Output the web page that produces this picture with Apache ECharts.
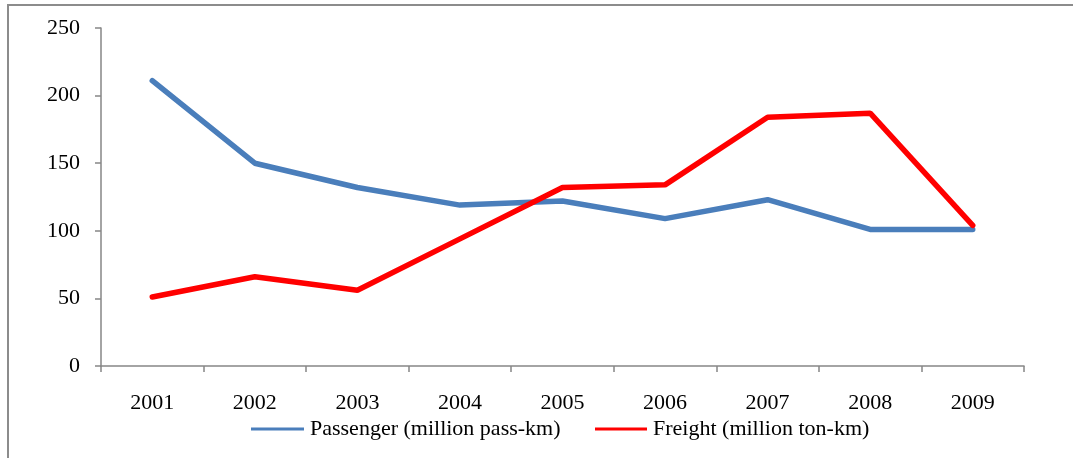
<!DOCTYPE html>
<html>
<head>
<meta charset="utf-8">
<script src="https://cdn.jsdelivr.net/npm/echarts@6/dist/echarts.min.js"></script>
<style>
html,body{margin:0;padding:0;background:#fff;}
#chart{width:1073px;height:458px;}
</style>
</head>
<body>
<div id="chart"></div>
<script>
const years = ['2001','2002','2003','2004','2005','2006','2007','2008','2009'];
const passenger = [211, 150, 132, 119, 122, 109, 123, 101, 101];
const freight = [51, 66, 56, 94, 132, 134, 184, 187, 104];
const yTicks = [0, 50, 100, 150, 200, 250];
const seriesNames = ['Passenger (million pass-km)', 'Freight (million ton-km)'];

const font = '"Liberation Serif", "Times New Roman", serif';
const axisColor = '#868686';
const chart = echarts.init(document.getElementById('chart'), null, {renderer: 'canvas'});
chart.setOption({
  animation: false,
  backgroundColor: '#fff',
  graphic: [{
    type: 'rect',
    shape: {x: 8, y: 5, width: 1200, height: 600},
    style: {fill: 'none', stroke: '#8c8c8c', lineWidth: 2},
    silent: true
  }],
  grid: {left: 101, top: 28, right: 49, bottom: 92, containLabel: false},
  legend: [
    {
      data: [seriesNames[0]], left: 251, top: 418, icon: 'rect', padding: 0,
      itemWidth: 53, itemHeight: 3, itemGap: 0,
      textStyle: {fontFamily: font, fontSize: 22, color: '#000', padding: [3, 0, 0, 1]}
    },
    {
      data: [seriesNames[1]], left: 595, top: 418, icon: 'rect', padding: 0,
      itemWidth: 52, itemHeight: 3, itemGap: 0,
      textStyle: {fontFamily: font, fontSize: 22, color: '#000', padding: [3, 0, 0, 1]}
    }
  ],
  xAxis: {
    type: 'category',
    data: years,
    boundaryGap: true,
    axisLine: {lineStyle: {color: axisColor, width: 1.5}},
    axisTick: {show: true, length: 6, lineStyle: {color: axisColor, width: 1.5}, alignWithLabel: false},
    axisLabel: {fontFamily: font, fontSize: 22, color: '#000', margin: 26},
    splitLine: {show: false}
  },
  yAxis: {
    type: 'value',
    min: yTicks[0], max: yTicks[yTicks.length - 1], interval: 50,
    axisLine: {show: true, lineStyle: {color: axisColor, width: 1.5}},
    axisTick: {show: true, length: 6, lineStyle: {color: axisColor, width: 1.5}},
    axisLabel: {fontFamily: font, fontSize: 22, color: '#000', margin: 21},
    splitLine: {show: false}
  },
  series: [
    {
      name: seriesNames[0], type: 'line', data: passenger,
      symbol: 'none', lineStyle: {color: '#4a7ebb', width: 5.5, cap: 'round'},
      itemStyle: {color: '#4a7ebb'}
    },
    {
      name: seriesNames[1], type: 'line', data: freight,
      symbol: 'none', lineStyle: {color: '#ff0000', width: 5.5, cap: 'round'},
      itemStyle: {color: '#ff0000'}
    }
  ]
});
</script>
</body>
</html>
